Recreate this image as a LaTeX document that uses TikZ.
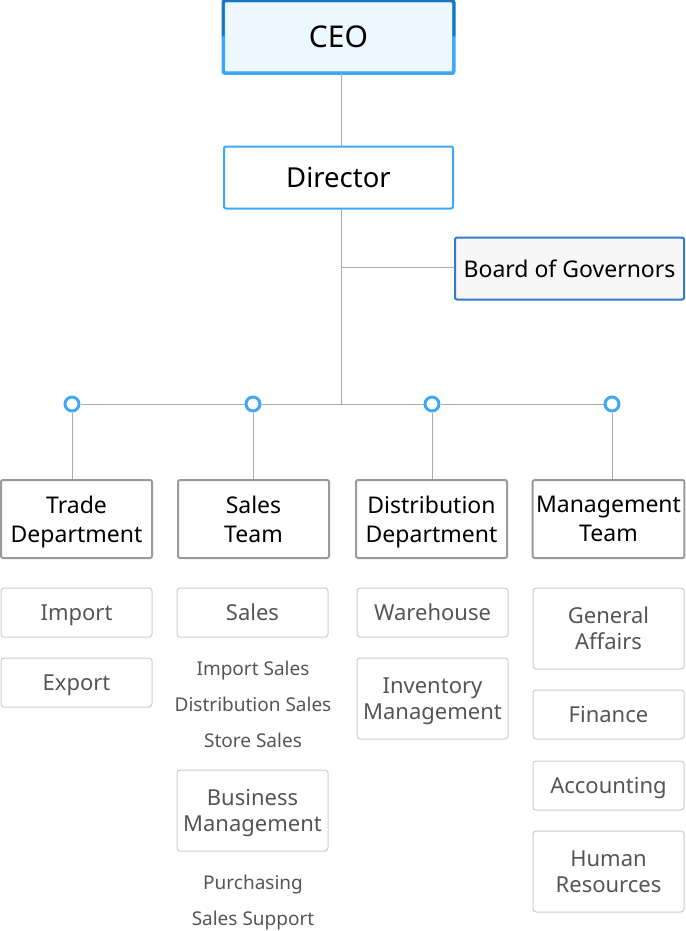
\documentclass[tikz,border=0pt]{standalone}
\usepackage{fontspec}
\setmainfont{Noto Sans}
\usetikzlibrary{positioning}

\definecolor{linegray}{HTML}{AAAAAA}
\definecolor{boxgray}{HTML}{9A9A9A}
\definecolor{subgray}{HTML}{CCCCCC}
\definecolor{subtext}{HTML}{555555}
\definecolor{lightblue}{HTML}{3FA9F5}
\definecolor{darkblue}{HTML}{1B75BB}
\definecolor{midblue}{HTML}{2E7DC6}
\definecolor{ceofill}{HTML}{EDF7FE}
\definecolor{boardfill}{HTML}{F7F7F7}

\tikzset{
  topbox/.style={draw=lightblue, line width=2pt, rounded corners=2pt, fill=white,
    minimum width=229pt, align=center, text depth=0pt,
    font=\fontsize{27.5}{30}\selectfont},
  deptbox/.style={draw=boxgray, line width=2pt, rounded corners=2pt, fill=white,
    minimum width=151pt, minimum height=78pt, align=center, text depth=0pt,
    font=\fontsize{23}{29}\selectfont},
  subbox/.style={draw=subgray, line width=1pt, rounded corners=3pt,
    minimum width=151pt, align=center, text=subtext, text depth=0pt,
    font=\fontsize{22}{26}\selectfont},
  subitem/.style={text=subtext, text depth=0pt, font=\fontsize{19}{22}\selectfont},
  joint/.style={circle, draw=lightblue, line width=3pt, fill=white,
    inner sep=0pt, minimum size=14pt},
  link/.style={draw=linegray, line width=1pt}
}

\begin{document}
\begin{tikzpicture}[x=1pt, y=-1pt]
  \useasboundingbox (0,0) rectangle (685,931);

  % top of the chart
  \node[topbox, fill=ceofill, minimum height=71pt, font=\fontsize{30}{32}\selectfont] (ceo) at (338.5,37) {CEO};
  \begin{scope}
    \clip (200,-5) rectangle (480,37);
    \draw[darkblue, line width=3pt, rounded corners=2pt] (ceo.north west) rectangle (ceo.south east);
  \end{scope}
  \begin{scope}
    \clip (200,37) rectangle (480,80);
    \draw[lightblue, line width=3pt, rounded corners=2pt] (ceo.north west) rectangle (ceo.south east);
  \end{scope}
  \node[topbox, minimum height=62pt] (director) at (338.5,177.5) {Director};
  \node[topbox, draw=midblue, fill=boardfill, minimum height=62pt,
    font=\fontsize{23}{26}\selectfont] (board) at (569.5,268.5) {Board of Governors};

  \coordinate (hub) at (341,404);
  \coordinate (split) at (341,267);
  \node[joint] (j1) at (72,404) {};
  \node[joint] (j2) at (253,404) {};
  \node[joint] (j3) at (432,404) {};
  \node[joint] (j4) at (612,404) {};

  \draw[link] (ceo.south -| split) -- (director.north -| split);
  \draw[link] (director.south -| split) -- (hub);
  \draw[link] (split) -- (split -| board.west);
  \draw[link] (j1) -- (j2) -- (j3) -- (j4);

  % departments
  \node[deptbox] (trade) at (76.5,519) {Trade\\Department};
  \node[deptbox] (sales) at (253.5,519) {Sales\\Team};
  \node[deptbox] (distrib) at (431.5,519) {Distribution\\Department};
  \node[deptbox] (manage) at (608.5,519) {Management\\Team};
  \draw[link] (j1) -- (j1 |- trade.north);
  \draw[link] (j2) -- (j2 |- sales.north);
  \draw[link] (j3) -- (j3 |- distrib.north);
  \draw[link] (j4) -- (j4 |- manage.north);

  % trade department
  \node[subbox, minimum height=49pt] (import) at (76.5,612.5) {Import};
  \node[subbox, minimum height=49pt] (export) at (76.5,682.5) {Export};

  % sales team
  \node[subbox, minimum height=49pt] (salesbox) at (252.5,612.5) {Sales};
  \node[subitem] (impsales) at (253,668) {Import Sales};
  \node[subitem] (distsales) at (253,704) {Distribution Sales};
  \node[subitem] (storesales) at (253,740) {Store Sales};
  \node[subbox, minimum height=81pt] (business) at (252.5,810.5) {Business\\Management};
  \node[subitem] (purchasing) at (253,882) {Purchasing};
  \node[subitem] (support) at (253,918) {Sales Support};

  % distribution department
  \node[subbox, minimum height=49pt] (warehouse) at (432.5,612.5) {Warehouse};
  \node[subbox, minimum height=81pt] (inventory) at (432.5,698.5) {Inventory\\Management};

  % management team
  \node[subbox, minimum height=81pt] (general) at (608.5,628.5) {General\\Affairs};
  \node[subbox, minimum height=49pt] (finance) at (608.5,714.5) {Finance};
  \node[subbox, minimum height=49pt] (accounting) at (608.5,785.5) {Accounting};
  \node[subbox, minimum height=81pt] (human) at (608.5,871.5) {Human\\Resources};
\end{tikzpicture}
\end{document}
